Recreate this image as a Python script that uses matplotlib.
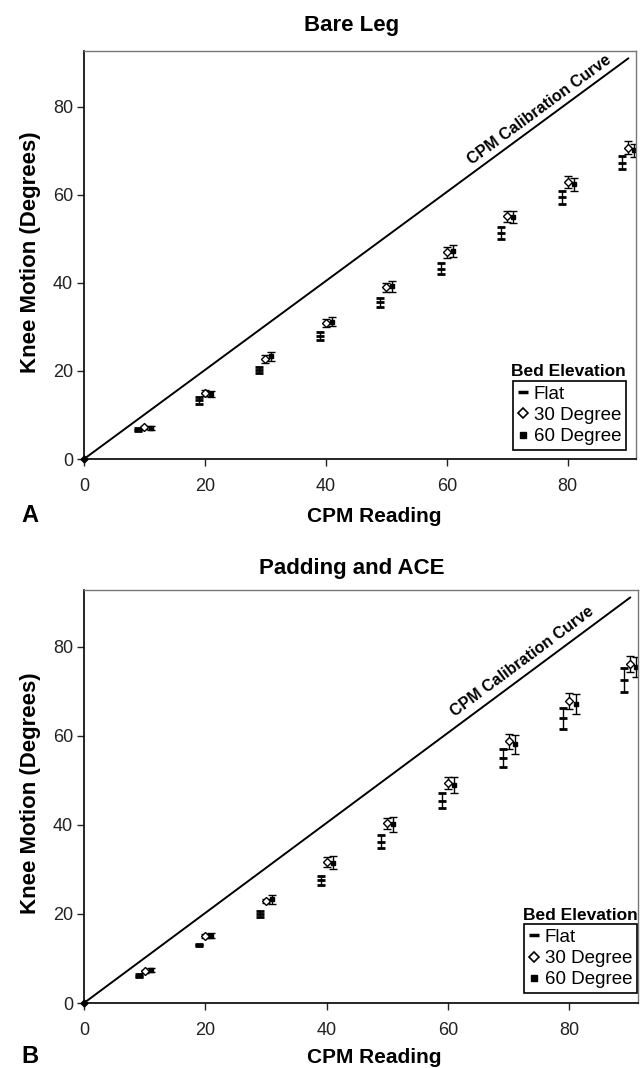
import numpy as np
import matplotlib.pyplot as plt
from matplotlib.lines import Line2D

plt.rcParams['font.family'] = ['Liberation Sans', 'DejaVu Sans']

# CPM settings (x) and measured knee motion, mean +/- error
cpm = np.array([10, 20, 30, 40, 50, 60, 70, 80, 90])
calib_x = [0, 90]
calib_y = [0, 91]

# A: bare leg
bare_flat = [6.7, 13.3, 20.3, 28.0, 35.6, 43.2, 51.3, 59.5, 67.3]
bare_flat_err = [0.4, 0.7, 0.7, 0.85, 1.0, 1.25, 1.3, 1.5, 1.5]
bare_30 = [7.2, 15.0, 22.7, 30.9, 39.0, 47.0, 55.1, 62.9, 70.7]
bare_30_err = [0.4, 0.75, 1.0, 0.95, 1.1, 1.25, 1.25, 1.4, 1.5]
bare_60 = [7.0, 14.8, 23.3, 31.2, 39.3, 47.2, 55.0, 62.4, 70.1]
bare_60_err = [0.4, 0.7, 0.95, 1.05, 1.25, 1.4, 1.35, 1.5, 1.55]

# B: padding and ACE wrap
pad_flat = [6.15, 13.05, 19.9, 27.5, 36.2, 45.4, 54.9, 63.9, 72.5]
pad_flat_err = [0.3, 0.3, 0.7, 1.1, 1.4, 1.7, 2.0, 2.3, 2.6]
pad_30 = [7.1, 15.0, 22.9, 31.65, 40.3, 49.4, 58.7, 67.8, 76.1]
pad_30_err = [0.4, 0.4, 0.5, 1.05, 1.3, 1.3, 1.6, 1.7, 1.7]
pad_60 = [7.4, 15.15, 23.25, 31.5, 40.1, 48.9, 58.1, 67.1, 75.4]
pad_60_err = [0.5, 0.6, 1.1, 1.4, 1.7, 1.75, 2.1, 2.3, 2.3]

W, H = 644, 1068
fig = plt.figure(figsize=(W / 100, H / 100), dpi=100)


def fx(x):
    return x / W


def fy(y):
    return 1 - y / H


def panel(box, title, letter, flat, flat_err, d30, d30_err, d60, d60_err,
          title_base, label_base, ylab_y, leg_corner, leg_title, calib_at, calib_off):
    x0, y0, x1, y1 = box
    ax = fig.add_axes([fx(x0), fy(y1), (x1 - x0) / W, (y1 - y0) / H])

    ax.plot(calib_x, calib_y, color="black", lw=1.4)
    ax.plot([0], [0], marker="D", ms=3.5, color="black", clip_on=False, zorder=5)

    ax.errorbar(cpm - 1, flat, yerr=flat_err, fmt="_", color="black", ms=6, mew=2,
                elinewidth=1, capsize=3, capthick=1)
    ax.errorbar(cpm, d30, yerr=d30_err, fmt="D", mfc="white", mec="black", ms=4.5, mew=1,
                ecolor="black", elinewidth=1, capsize=3, capthick=1)
    ax.errorbar(cpm + 1, d60, yerr=d60_err, fmt="s", color="black", ms=3.5,
                elinewidth=1, capsize=3, capthick=1)

    ax.set_xlim(0, 91.3)
    ax.set_ylim(0, 92.7)
    ax.set_xticks([0, 20, 40, 60, 80])
    ax.set_yticks([0, 20, 40, 60, 80])
    ax.tick_params(direction="out", length=5, width=1, labelsize=13, colors="#222222")
    ax.tick_params(axis="x", pad=9)
    ax.tick_params(axis="y", pad=3)
    for side in ["left", "bottom"]:
        ax.spines[side].set_linewidth(1.2)
        ax.spines[side].set_color("black")
    for side in ["top", "right"]:
        ax.spines[side].set_linewidth(1)
        ax.spines[side].set_color("#777777")

    # label along the calibration line
    ang = ax.transData.transform_angles(np.array([np.degrees(np.arctan2(91, 90))]),
                                        np.array([[0, 0]]))[0]
    xc = calib_at
    yc = xc * 91 / 90
    off = calib_off
    ax.annotate("CPM Calibration Curve", xy=(xc, yc),
                xytext=(-off * np.sin(np.radians(ang)), off * np.cos(np.radians(ang))),
                textcoords="offset points", rotation=ang, rotation_mode="anchor",
                ha="center", va="baseline", fontsize=11.5, fontweight="bold")

    fig.text(fx(352), fy(title_base), title, ha="center", va="baseline",
             fontsize=16, fontweight="bold")
    fig.text(fx(374), fy(label_base), "CPM Reading", ha="center", va="baseline",
             fontsize=15, fontweight="bold")
    fig.text(fx(30), fy(label_base), letter, ha="center", va="baseline",
             fontsize=17, fontweight="bold")
    fig.text(fx(31), fy(ylab_y), "Knee Motion (Degrees)", rotation=90,
             ha="center", va="center", fontsize=16, fontweight="bold")

    handles = [
        Line2D([], [], ls="none", marker="_", ms=7, mew=2.5, color="black"),
        Line2D([], [], ls="none", marker="D", ms=5, mfc="white", mec="black", mew=1.2),
        Line2D([], [], ls="none", marker="s", ms=4, color="black"),
    ]
    leg = ax.legend(handles, ["Flat", "30 Degree", "60 Degree"], loc="upper right",
                    bbox_to_anchor=(fx(leg_corner[0]), fy(leg_corner[1])),
                    bbox_transform=fig.transFigure, fontsize=13.5, frameon=True,
                    fancybox=False, edgecolor="black", framealpha=1,
                    handlelength=0.5, handletextpad=0.35, borderpad=0.25,
                    labelspacing=0.22, borderaxespad=0)
    leg.get_frame().set_linewidth(1.2)
    fig.text(fx(leg_title[0]), fy(leg_title[1]), "Bed Elevation", ha="center",
             va="center", fontsize=12.5, fontweight="bold")
    return ax


panel((84, 51, 636, 459), "Bare Leg", "A", bare_flat, bare_flat_err, bare_30, bare_30_err,
      bare_60, bare_60_err, 31, 522, 252, (626, 381), (568, 372), 76.5, 5)
panel((84, 590, 638, 1003), "Padding and ACE", "B", pad_flat, pad_flat_err, pad_30, pad_30_err,
      pad_60, pad_60_err, 574, 1063, 793, (637, 924), (580, 915), 73.5, 6)

fig.savefig("out.png", dpi=100)
